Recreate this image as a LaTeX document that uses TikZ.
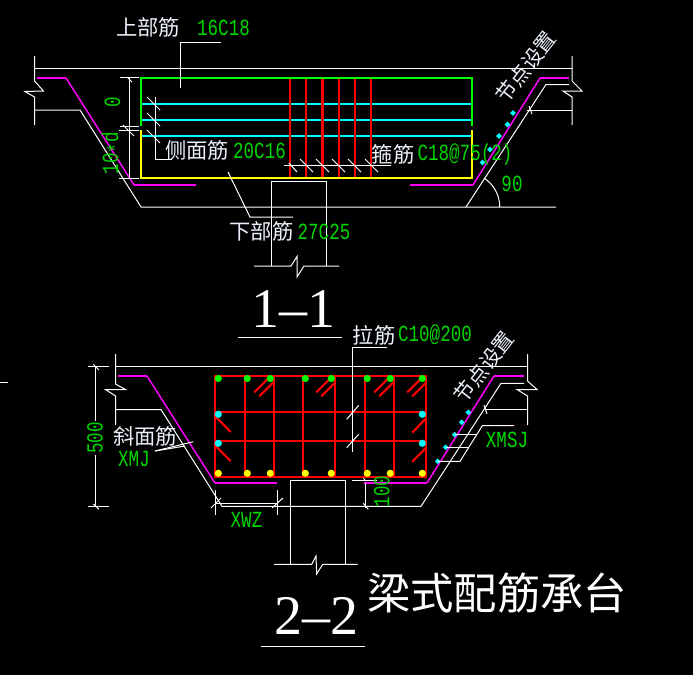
\documentclass[tikz,border=0pt]{standalone}
\usepackage{fontspec}
\newfontfamily\cadfont[FakeStretch=0.76]{Liberation Mono}
\newfontfamily\titlefont{Liberation Serif}
\newfontfamily\cjkfont{Noto Sans CJK SC}
\definecolor{txtgreen}{RGB}{0,215,0}
\definecolor{txtwhite}{RGB}{235,240,250}
\definecolor{cadgreen}{RGB}{0,255,0}
\definecolor{cadyellow}{RGB}{255,255,0}
\definecolor{cadcyan}{RGB}{0,255,255}
\definecolor{cadred}{RGB}{255,0,0}
\definecolor{cadmagenta}{RGB}{255,0,255}
\tikzset{
  wl/.style={draw=white,line width=0.75pt},
  grn/.style={draw=cadgreen,line width=1.5pt},
  yel/.style={draw=cadyellow,line width=1.5pt},
  cyn/.style={draw=cadcyan,line width=1.5pt},
  redl/.style={draw=cadred,line width=1.6pt},
  mag/.style={draw=cadmagenta,line width=1.1pt},
  cadtxt/.style={text=txtgreen,inner sep=0pt,font=\cadfont\fontsize{17.3pt}{17.3pt}\selectfont},
  cjktxt/.style={text=txtwhite,inner sep=0pt,font=\cjkfont\fontsize{16pt}{16pt}\selectfont},
  title/.style={text=white,inner sep=0pt,font=\titlefont\fontsize{42pt}{42pt}\selectfont},
  dotg/.style={fill=cadgreen,draw=none},
  doty/.style={fill=cadyellow,draw=none},
  dotc/.style={fill=cadcyan,draw=none},
}
\newcommand{\dmd}[2]{\fill[dotc] (#1-2.8,#2) -- (#1,#2-2.8) -- (#1+2.8,#2) -- (#1,#2+2.8) -- cycle;}
\begin{document}
\begin{tikzpicture}[x=0.75pt,y=-0.75pt]
\useasboundingbox (0,0) rectangle (693,675);
\fill[black] (0,0) rectangle (693,675);

% ===== Section 1-1: concrete outline =====
\draw[wl] (34.5,68.3) -- (572,68.3);
\draw[wl] (34.5,56) -- (34.5,81) -- (43.5,91) -- (25,91.5) -- (34.5,97) -- (34.5,125);
\draw[wl] (34.5,110) -- (80,110) -- (141,207) -- (556,207);
\draw[wl] (466,207) -- (546,84.5) -- (569,84.5);
\draw[wl] (572,56) -- (572,81) -- (582,91) -- (563,91) -- (572,97) -- (572,125);
\draw[wl] (527,110) -- (572,110);
\draw[wl] (529,106) -- (532,114);
\draw[wl] (484,178) arc (-57:0:34.6);
% column
\draw[wl] (271.5,266) -- (271.5,181.5) -- (326.5,181.5) -- (326.5,266);
\draw[wl] (254,266) -- (291,266) -- (297,256.5) -- (297,277) -- (304,266) -- (339,266);
% magenta
\draw[mag] (66,78) -- (134,185);
\draw[mag] (473,185) -- (540,78);
\draw[mag,line width=1.5pt] (37,78) -- (66,78) (134,185) -- (196,185);
\draw[mag,line width=1.5pt] (410,185) -- (473,185) (540,78) -- (569,78);
% bars
\foreach \y in {104,120,136} \draw[cyn] (141,\y) -- (472,\y);
\foreach \x in {290,306,322.5,339,355,371} \draw[redl] (\x,78) -- (\x,178);
\draw[grn] (141,126) -- (141,78) -- (472,78) -- (472,126);
\draw[yel] (141,130) -- (141,178) -- (472,178) -- (472,130);
% cyan points
\dmd{513}{113}\dmd{507.5}{124.5}\dmd{499}{136}\dmd{490}{149.5}\dmd{482.5}{162.5}
% leaders
\draw[wl] (221,42.5) -- (180,42.5) -- (180,88);
\draw[wl] (172,159) -- (155,159) -- (155,97);
\foreach \y in {97,113,130} \draw[wl] (147,\y) -- (160,\y+13);
\draw[wl] (228,172) -- (250,217) -- (293,217);
\draw[wl] (284,165) -- (391,165);
\draw[wl] (289,163) -- (297,172);
\foreach \x in {300,316,332,348,365} \draw[wl] (\x,159) -- (\x+13,172);
% dimension
\draw[wl] (129,78) -- (129,178);
\draw[wl] (120,77.7) -- (139,77.7);
\draw[wl] (120,126.7) -- (139,126.7);
\draw[wl] (119,130.7) -- (139,130.7);
\draw[wl] (119,178.3) -- (139,178.3);
\draw[wl] (127,77) -- (132,82);
\draw[wl] (123,125) -- (134,136);
% texts
\node[cjktxt] (t1) at (148,27) {上部筋};
\node[cadtxt] (t2) at (223.5,28) {16C18};
\node[cjktxt] (t3) at (197,150) {侧面筋};
\node[cadtxt] (t4) at (259.5,151) {20C16};
\node[cjktxt] (t5) at (261.5,231) {下部筋};
\node[cadtxt] (t6) at (324,232) {27C25};
\node[cjktxt] (t7) at (393,154) {箍筋};
\node[cadtxt] (t8) at (465,155) {C18@75(2)};
\node[cadtxt] (t9) at (512,184) {90};
\node[cadtxt,rotate=90] (t10) at (112.5,102) {0};
\node[cadtxt,rotate=90] (t11) at (112.5,153) {10\raisebox{-4pt}{*}d};
\node[cjktxt,rotate=52,font=\cjkfont\fontsize{15.5pt}{15.5pt}\selectfont] (t12) at (526,67) {节点设置};
\node[title] (t13) at (293,309) {1–1};
\draw[wl] (238,337) -- (342,337);

% ===== Section 2-2: concrete outline =====
\draw[wl] (0,382.7) -- (8,382.7);
\draw[wl] (115.5,366.3) -- (527.5,366.3);
\draw[wl] (115.5,354) -- (115.5,384) -- (125.5,389.5) -- (105.5,389.5) -- (115.5,396) -- (115.5,425);
\draw[wl] (115.5,409.5) -- (161,409.5) -- (222,506.3) -- (421,506.3) -- (501,383.3) -- (524,383.3);
\draw[wl] (527.5,354) -- (527.5,381) -- (537,389.5) -- (517,389.5) -- (527.5,396) -- (527.5,425);
\draw[wl] (485,409.5) -- (527.5,409.5);
\draw[wl] (484,405) -- (487,414);
% column
\draw[wl] (290.3,564.3) -- (290.3,480.3) -- (345.7,480.3) -- (345.7,564.3);
\draw[wl] (274,564.3) -- (311.7,564.3) -- (316,556) -- (316.7,574) -- (322.7,564.3) -- (357.7,564.3);
% magenta
\draw[mag] (147,376) -- (215,483);
\draw[mag] (427,483) -- (494,376);
\draw[mag,line width=1.5pt] (118,376) -- (147,376) (215,483) -- (277,483);
\draw[mag,line width=1.5pt] (364,483) -- (427,483) (494,376) -- (524,376);
% red cage
\draw[redl] (215,376) rectangle (426,476.7);
\foreach \y in {411.7,441} \draw[redl] (215,\y) -- (426,\y);
\foreach \x in {245,274,303,334.7,364.7,394} \draw[redl] (\x,376) -- (\x,476.7);
\foreach \a/\b in {254.3/268.3,316.3/330.3,374.3/388.3,407.3/421.3} {
  \draw[redl] (\a,392.3) -- (\b,378.3);
  \draw[redl] (\a+5,396.3) -- (\b+5,382.3);
}
\draw[redl] (215.7,416.7) -- (230.7,432);
\draw[redl] (215.7,446) -- (230.7,461);
\draw[redl] (412.3,432.7) -- (426,418.3);
\draw[redl] (412.3,461.7) -- (426,447.7);
% dots
\foreach \x in {218.3,247.3,270.3,305.3,331.3,367.3,390.3,422.3} {
  \fill[dotg] (\x,378.5) circle (3.6);
  \fill[doty] (\x,473.3) circle (3.6);
}
\foreach \x in {218.3,422.3} \foreach \y in {414.3,443.3} \fill[dotc] (\x,\y) circle (3.6);
\dmd{468.3}{412.3}\dmd{461.7}{422.3}\dmd{454.7}{434.7}\dmd{445.7}{447.3}\dmd{437.7}{461.3}
% leaders
\draw[wl] (386.7,347.7) -- (352.3,347.7) -- (352.3,451.7);
\draw[wl] (346.7,419.3) -- (358.7,405.3);
\draw[wl] (346.7,447.7) -- (358.7,434.3);
\draw[wl] (437.7,461.3) -- (460,461.3) -- (482.3,425.7) -- (514,425.7);
\draw[wl] (454.7,434.7) -- (477,434.7);
\draw[wl] (445.7,447.3) -- (467.7,447.3);
\draw[wl] (155,451) -- (193.3,441.7);
\draw[wl] (155,451) -- (185,446);
% dimensions
\draw[wl] (95.5,366.5) -- (95.5,421);
\draw[wl] (95.5,455) -- (95.5,506.5);
\draw[wl] (88,366.5) -- (109,366.5);
\draw[wl] (88,506.3) -- (109,506.3);
\draw[wl] (93.3,364.3) -- (99,370);
\draw[wl] (93.3,504) -- (99,509.3);
\draw[wl] (215.3,490) -- (215.3,515);
\draw[wl] (277.3,490) -- (277.3,515);
\draw[wl] (215.3,503.3) -- (277.3,503.3);
\draw[wl] (211,508) -- (221,498);
\draw[wl] (272,508) -- (283,498);
\draw[wl] (352.3,480.3) -- (377,480.3);
\draw[wl] (365.7,483) -- (365.7,508);
\draw[wl] (363.3,503.3) -- (368.3,509.3);
\draw[wl] (363.3,478.3) -- (366,481);
% texts
\node[cjktxt] (s1) at (374,335) {拉筋};
\node[cadtxt] (s2) at (435,335) {C10@200};
\node[cjktxt] (s3) at (145,436.5) {斜面筋};
\node[cadtxt] (s4) at (134,459) {XMJ};
\node[cadtxt] (s5) at (246.5,520) {XWZ};
\node[cadtxt] (s6) at (507,440) {XMSJ};
\node[cadtxt,rotate=90] (s7) at (95,438) {500};
\node[cadtxt,rotate=90] (s8) at (381.7,491.7) {100};
\node[cjktxt,rotate=52,font=\cjkfont\fontsize{15.5pt}{15.5pt}\selectfont] (s9) at (484,367) {节点设置};
\node[title] (s10) at (316,616) {2–2};
\draw[wl] (261,646) -- (365,646);
\node[text=white,inner sep=0pt,font=\cjkfont\fontsize{32.5pt}{32.5pt}\selectfont] (s11) at (497,593) {梁式配筋承台};
\end{tikzpicture}
\end{document}
